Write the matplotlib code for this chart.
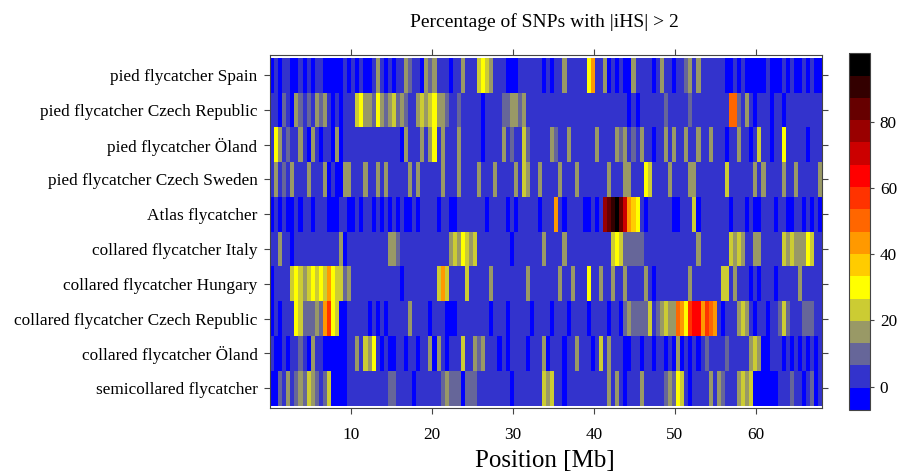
import matplotlib
matplotlib.use("Agg")
import matplotlib.pyplot as plt
import numpy as np
from matplotlib.colors import ListedColormap, BoundaryNorm

plt.rcParams["font.family"] = ["Liberation Serif", "DejaVu Serif"]

# populations, top to bottom
populations = [
    "pied flycatcher Spain",
    "pied flycatcher Czech Republic",
    "pied flycatcher Öland",
    "pied flycatcher Czech Sweden",
    "Atlas flycatcher",
    "collared flycatcher Italy",
    "collared flycatcher Hungary",
    "collared flycatcher Czech Republic",
    "collared flycatcher Öland",
    "semicollared flycatcher",
]

# level code per 0.5 Mb window, 10 windows per chunk
spain = ("0101100101" "0110000010" "1010013101" "0113211032" "3111011311"
         "1454311100" "0111111010" "1131111157" "1130101003" "1111013110"
         "1123131111" "1100101000" "0010001010" "010100")
czech = ("1102103212" "1323101011" "1453325323" "4232113434" "5332112111"
         "1101111223" "3231111111" "1111111111" "1111111101" "0111111211"
         "1112111111" "1118821310" "1110110111" "111111")
oland = ("1531211310" "3101103011" "1111111111" "1103111313" "5131113111"
         "1101111312" "1142111113" "2113111111" "3111132312" "1311011313"
         "1131131131" "1101131101" "4110115111" "110111")
czech_sweden = ("1312131113" "1113010033" "1113113131" "1111313111" "1131113111"
                "1311131111" "3143113111" "1311131111" "1113111331" "1154111131"
                "1113311111" "1141111113" "1311113113" "111113")
atlas = ("0101001011" "0111000110" "0101101010" "1010010111" "1011001111"
         "1110111101" "0111110111" "7101111001" "01cdefdb76" "5101111110"
         "0111401111" "1110111010" "0111011001" "101010")
italy = ("1131101111" "1111111301" "1111111113" "3211111111" "1111343543"
         "4111111110" "1111111311" "1131111111" "1111454222" "2211111111"
         "1111131111" "1114343113" "3111114343" "335411")
hungary = ("0111145434" "5454754423" "1111111111" "1101111111" "1474111141"
           "1111311111" "1113111111" "1311311151" "1311311311" "1131011111"
           "1113111111" "1441311101" "0111011111" "311111")
czech_col = ("0101115422" "2327954001" "1111010101" "1111311110" "1110001111"
             "1111011101" "1111011110" "1110111101" "1110110232" "2224123433"
             "8759aa7987" "1011134310" "1101124211" "122211")
oland_col = ("1001011210" "3110000001" "1314351010" "0110110113" "0310111411"
             "3231110101" "1110111301" "1101131110" "1413111001" "1011011010"
             "3010101211" "1121111134" "3001110101" "010101")
semicollared = ("0021312324" "3212400001" "1111111112" "2111101111" "1123222022"
                "2111111110" "1111111434" "1101111111" "1113131011" "1311111232"
                "5410111131" "3211134340" "0000011121" "101201")
rows = [spain, czech, oland, czech_sweden, atlas,
        italy, hungary, czech_col, oland_col, semicollared]

# representative percentage for each level code
pct = {"0": -3, "1": 3, "2": 10, "3": 16, "4": 23, "5": 30, "6": 37, "7": 43,
       "8": 50, "9": 57, "a": 64, "b": 70, "c": 77, "d": 84, "e": 90, "f": 97}

colors = ["#0000FF", "#3333CC", "#666699", "#999966", "#CCCC33", "#FFFF00",
          "#FFCC00", "#FF9900", "#FF6600", "#FF3300", "#FF0000", "#CC0000",
          "#990000", "#660000", "#330000", "#000000"]
zmin, zmax = -7.03, 100.65
xmax = 68.2

z = np.array([[pct[c] for c in r] for r in rows], dtype=float)
nbins = z.shape[1]
xedges = np.linspace(0, xmax, nbins + 1)
yedges = np.arange(len(rows) + 1) - 0.5

levels = np.linspace(zmin, zmax, len(colors) + 1)
cmap = ListedColormap(colors)
norm = BoundaryNorm(levels, cmap.N)

fig = plt.figure(figsize=(9.08, 4.75), dpi=100)
ax = fig.add_axes([0.2974, 0.1411, 0.6083, 0.7425])
mesh = ax.pcolormesh(xedges, yedges, z, cmap=cmap, norm=norm, shading="flat")
ax.set_xlim(0, xmax)
ax.set_ylim(len(rows) - 0.5 + 0.07, -0.5 - 0.07)

ax.set_yticks(range(len(rows)))
ax.set_yticklabels(populations, fontsize=12.4)
ax.set_xticks([10, 20, 30, 40, 50, 60])
ax.tick_params(axis="both", direction="out", length=4, width=0.8,
               color="#444444", top=True, right=True, labelsize=12.4)
ax.tick_params(axis="x", pad=10)
ax.tick_params(axis="y", pad=5)
for s in ax.spines.values():
    s.set_color("#444444")
    s.set_linewidth(0.8)

fig.text(0.600, 0.953, "Percentage of SNPs with |iHS| > 2", ha="center",
         va="center", fontsize=14)
fig.text(0.600, 0.030, "Position [Mb]", ha="center", va="center", fontsize=18)

cax = fig.add_axes([0.9354, 0.1368, 0.0228, 0.751])
cb = fig.colorbar(mesh, cax=cax, ticks=[0, 20, 40, 60, 80])
cax.minorticks_off()
cb.outline.set_linewidth(0.8)
cb.outline.set_edgecolor("#444444")
cax.tick_params(direction="out", length=3, width=0.8, color="#444444",
                labelsize=12.4, pad=4)

fig.savefig("out.png", dpi=100)
